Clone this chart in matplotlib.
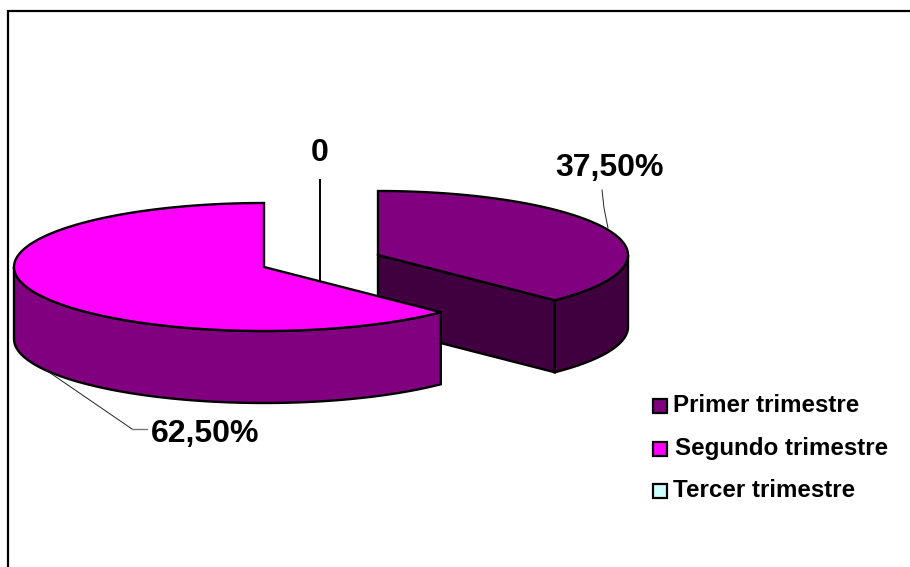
import numpy as np
import matplotlib
matplotlib.use('Agg')
import matplotlib.pyplot as plt
from matplotlib.patches import Rectangle

# chart values
categories = ['Primer trimestre', 'Segundo trimestre', 'Tercer trimestre']
values = [37.5, 62.5, 0]
value_labels = ['37,50%', '62,50%', '0']
top_colours = ['#800080', '#FF00FF', '#CCFFFF']
side_colours = ['#400040', '#800080', '#669999']

plt.rcParams['font.family'] = ['Liberation Sans', 'DejaVu Sans']

fig = plt.figure(figsize=(9.10, 5.67), dpi=100, facecolor='w')
ax = fig.add_axes([0, 0, 1, 1])
ax.set_xlim(0, 910)
ax.set_ylim(567, 0)
ax.axis('off')

# outer frame, only left and top show in the screenshot
ax.plot([8, 8, 910], [567, 11, 11], color='k', lw=1.6, zorder=1, solid_joinstyle='miter')

# pie geometry in pixels
rx, ry = 250, 64
depth = 72
centres = [(378, 255), (264, 267)]
edge_lw = 1.7


def arc(c, t1, t2):
    t = np.radians(np.linspace(t1, t2, 200))
    return c[0] + rx * np.cos(t), c[1] - ry * np.sin(t)


# slices go clockwise from 12 o'clock
angles = 90 - np.cumsum([0] + values) * 3.6

# first slice: cut wall and rim wall, then top
c = centres[0]
t1, t2 = angles[0], angles[1]
ex, ey = arc(c, t2, t2)
ex, ey = ex[0], ey[0]
ax.fill([c[0], ex, ex, c[0]], [c[1], ey, ey + depth, c[1] + depth],
        facecolor=side_colours[0], edgecolor='k', lw=edge_lw, zorder=2)
xr, yr = arc(c, 0, t2)
ax.fill(np.r_[xr, xr[::-1]], np.r_[yr, yr[::-1] + depth],
        facecolor=side_colours[0], edgecolor='k', lw=edge_lw, zorder=2)
xa, ya = arc(c, t1, t2)
ax.fill(np.r_[c[0], xa], np.r_[c[1], ya], facecolor=top_colours[0],
        edgecolor='k', lw=edge_lw, zorder=3)

# second slice, rim is visible down to the left end of the ellipse
c = centres[1]
t1, t2 = angles[1], angles[2]
xr, yr = arc(c, t1, -180)
ax.fill(np.r_[xr, xr[::-1]], np.r_[yr, yr[::-1] + depth],
        facecolor=side_colours[1], edgecolor='k', lw=edge_lw, zorder=4)
xa, ya = arc(c, t1, t2)
ax.fill(np.r_[c[0], xa], np.r_[c[1], ya], facecolor=top_colours[1],
        edgecolor='k', lw=edge_lw, zorder=5)

# leader lines
ax.plot([320, 320], [180, 281], color='k', lw=1.4, zorder=2.5)
ax.plot([602, 604, 608], [190, 208, 228], color='#222222', lw=0.7, zorder=6)
ax.plot([43, 132], [368, 429], color='#222222', lw=0.7, zorder=6)
ax.plot([132, 147], [429, 429], color='#777777', lw=1.0, zorder=6)

# value labels
fs = 23
ax.text(320, 161, value_labels[2], fontsize=fs, fontweight='bold', ha='center', va='baseline', zorder=7)
ax.text(610, 176, value_labels[0], fontsize=fs, fontweight='bold', ha='center', va='baseline', zorder=7)
ax.text(205, 442, value_labels[1], fontsize=fs, fontweight='bold', ha='center', va='baseline', zorder=7)

# legend
box_y = [405.5, 448.5, 490.5]
text_x = [673, 675, 673]
text_y = [412, 455, 497]
for name, colour, by, tx, ty in zip(categories, top_colours, box_y, text_x, text_y):
    ax.add_patch(Rectangle((652.5, by - 7), 14, 14, facecolor=colour, edgecolor='k', lw=1.6, zorder=7))
    ax.text(tx, ty, name, fontsize=17.4, fontweight='bold', ha='left', va='baseline', zorder=7)

fig.savefig('out.png', dpi=100)
